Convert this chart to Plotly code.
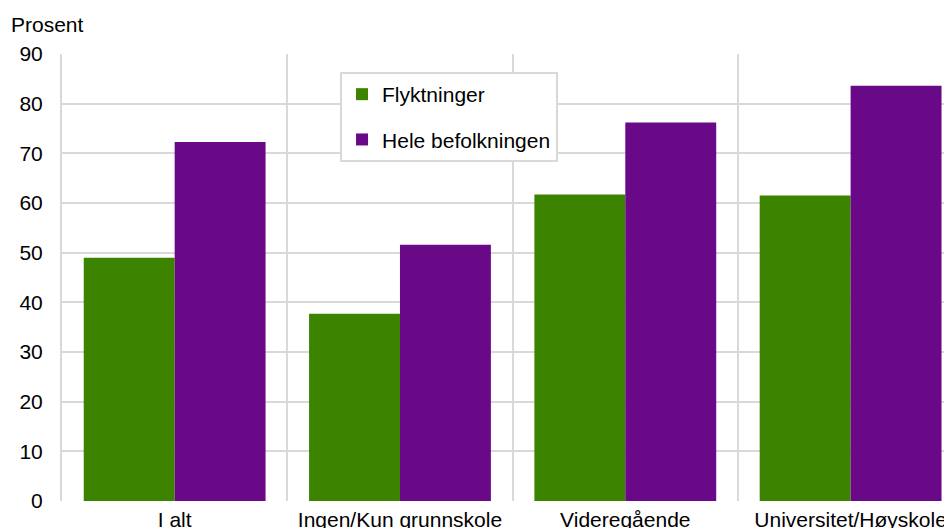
import plotly.graph_objects as go

categories = ["I alt", "Ingen/Kun grunnskole", "Videregående", "Universitet/Høyskole"]
flyktninger = [49.0, 37.7, 61.7, 61.5]
hele_befolkningen = [72.3, 51.6, 76.2, 83.6]
y_ticks = [0, 10, 20, 30, 40, 50, 60, 70, 80, 90]

GRID = "#d9d9d9"
FONT = "Liberation Sans, Arial, sans-serif"

fig = go.Figure()
fig.add_trace(go.Bar(x=categories, y=flyktninger, name="Flyktninger",
                     marker=dict(color="#3c8300", line=dict(width=0)), legendgroup="a"))
fig.add_trace(go.Bar(x=categories, y=hele_befolkningen, name="Hele befolkningen",
                     marker=dict(color="#690987", line=dict(width=0)), legendgroup="b"))

# plot area: figure x 54..944 (890 px), y 46..493 (447 px)
fig.update_layout(
    width=944, height=520,
    margin=dict(l=54, r=0, t=46, b=27),
    paper_bgcolor="white", plot_bgcolor="white",
    font=dict(family=FONT, size=21, color="#000000"),
    barmode="group", bargap=0.193, bargroupgap=0,
    showlegend=True,
    legend=dict(x=0.3124, y=0.9597, xanchor="left", yanchor="top",
                bgcolor="white", bordercolor=GRID, borderwidth=2,
                font=dict(family=FONT, size=21, color="#000000"),
                tracegroupgap=15, traceorder="grouped", itemwidth=30,
                entrywidth=174),
    xaxis=dict(type="category", range=[-0.5, 3.45], tickson="boundaries",
               showgrid=True, gridcolor=GRID, gridwidth=2, ticks="",
               showline=False, zeroline=False, automargin=False,
               ticklabelstandoff=4),
    yaxis=dict(range=[0, 90], tickvals=y_ticks, showgrid=True, gridcolor=GRID, gridwidth=2,
               showline=True, linecolor=GRID, linewidth=2, zeroline=False,
               ticks="", automargin=False, ticklabelstandoff=13),
    annotations=[dict(text="Prosent", xref="paper", yref="paper", x=-0.0590, y=1.067,
                      xanchor="left", yanchor="middle", showarrow=False,
                      font=dict(family=FONT, size=21, color="#000000"))],
)

fig.write_html("out.html")
